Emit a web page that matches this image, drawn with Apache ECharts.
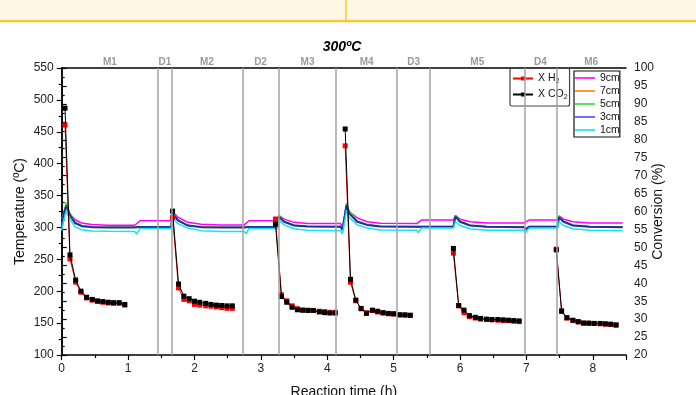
<!DOCTYPE html>
<html><head><meta charset="utf-8">
<script src="https://cdn.jsdelivr.net/npm/echarts@6/dist/echarts.min.js"></script>
<style>html,body{margin:0;padding:0;background:#fff}#c{width:696px;height:395px}</style>
</head><body><div id="c"></div>
<script>
// ---- phases ----
const phaseBounds = [0, 1.45, 1.656, 2.72, 3.27, 4.135, 5.05, 5.55, 6.97, 7.45, 8.5];
const phaseNames = ['M1','D1','M2','D2','M3','M4','D3','M5','D4','M6'];
const phaseLines = [1.45, 1.656, 2.72, 3.27, 4.135, 5.05, 5.55, 6.97, 7.45];

// ---- conversion data (%) ----
const timeM1 = [0.05,0.125,0.21,0.29,0.375,0.46,0.54,0.62,0.70,0.78,0.865,0.95];
const co2M1 = [88.8,47.9,40.9,37.8,36.1,35.5,35.1,34.9,34.7,34.6,34.6,34.1];
const h2M1  = [84.1,46.8,40.3,37.5,35.9,35.3,34.9,34.7,34.5,34.4,34.4,33.9];
const timeM2 = [1.67,1.76,1.84,1.92,2.0,2.08,2.17,2.25,2.33,2.41,2.49,2.57];
const co2M2 = [60.1,39.8,36.4,35.7,35.0,34.7,34.4,34.1,33.9,33.8,33.7,33.7];
const h2M2  = [58.3,38.7,35.5,35.1,34.1,33.9,33.7,33.6,33.4,33.2,33.0,33.0];
const timeM3 = [3.22,3.31,3.39,3.47,3.55,3.63,3.71,3.79,3.88,3.96,4.04,4.12];
const co2M3 = [56.5,36.3,34.7,33.3,32.6,32.5,32.4,32.4,32.0,31.8,31.7,31.7];
const h2M3  = [57.9,36.8,35.1,33.7,32.9,32.5,32.5,32.4,32.2,32.1,31.9,31.9];
const timeM4 = [4.27,4.35,4.43,4.51,4.59,4.68,4.76,4.84,4.92,5.0,5.09,5.17,5.25];
const co2M4 = [83.0,41.1,35.3,32.9,31.6,32.5,32.2,31.8,31.6,31.5,31.2,31.2,31.1];
const h2M4  = [78.3,40.3,35.1,33.0,31.8,32.4,32.0,31.7,31.5,31.4,31.2,31.1,31.0];
const timeM5 = [5.90,5.98,6.06,6.14,6.23,6.31,6.40,6.48,6.57,6.65,6.73,6.81,6.89];
const co2M5 = [49.7,33.8,32.5,31.0,30.5,30.2,30.0,29.9,29.9,29.8,29.7,29.6,29.5];
const h2M5  = [48.4,33.7,31.8,30.7,30.3,30.0,29.9,29.8,29.7,29.6,29.6,29.4,29.3];
const timeM6 = [7.45,7.53,7.61,7.70,7.78,7.86,7.94,8.02,8.11,8.19,8.27,8.35];
const co2M6 = [49.3,32.3,30.4,29.7,29.3,28.9,28.9,28.8,28.8,28.7,28.6,28.4];
const h2M6  = [49.5,32.1,30.3,29.6,29.2,28.9,28.8,28.8,28.7,28.6,28.5,28.3];

// ---- temperature profiles (ºC) ----
const tempTime = [0.00,0.03,0.07,0.12,0.20,0.30,0.45,0.70,1.10,1.13,1.18,1.65,1.67,1.75,1.90,2.10,2.40,2.75,2.78,2.82,3.25,3.27,3.35,3.50,3.70,4.20,4.23,4.29,4.33,4.45,4.60,4.80,5.35,5.37,5.42,5.90,5.93,6.00,6.15,6.40,6.96,6.99,7.04,7.47,7.49,7.56,7.70,7.95,8.45];
const temp9 = [313,322,333,322,312,307,304.5,303.5,303.5,304,310.5,310.5,325,316,308,305,304,304,305,310.5,310.5,319,313,308,306,306,300,334,325,315,309,306.5,306,306,311.5,311.5,319,313,309,307,307,307,311.5,311.5,318,313,309,307,307];
const temp7 = [300,320,335,322,308,303,301,300.4,300.4,297.5,301,301,322.5,311.5,303.5,300.9,300.4,300.4,297.5,301,301,317.5,309.5,303.5,301.9,301.4,296.5,335.5,324,310,304.5,301.9,301.4,298.5,301.4,301.4,317.5,309.5,303.5,301.4,300.9,297.5,301.4,301.4,316.5,309.5,303.5,301.4,300.9];
const temp5 = [299,324,339,323,308,303,300.7,300.2,300.2,297.3,300.8,300.8,324,311.5,303.3,300.7,300.2,300.2,297.3,300.8,300.8,318.5,309.5,303.3,301.7,301.2,296.3,338,326,310,304.3,301.7,301.2,298.3,301.2,301.2,318.5,309.5,303.3,301.2,300.7,297.3,301.2,301.2,317.5,309.5,303.3,301.2,300.7];
const temp3 = [298,321,334,320,307,302,300.5,300,300,297,300.6,300.6,322.5,311,303,300.5,300,300,297,300.6,300.6,317,309,303,301.5,301,296,335,322,309,304,301.5,301,298,301,301,317,309,303,301,300.5,297,301,301,316,309,303,301,300.5];
const temp1 = [295,311,326,314,301,296.5,294.5,294,293.7,289.5,298.5,298.5,314.5,306,299,295,293.7,293.7,290,298.5,298.5,312,304,298,295.5,295,290,327,316,304,299,296,295.5,292,299,299,309,303,298,295.5,295.5,292,299,299,309,303,298,295.5,295];

// ---- build series data ----
function joinSegments(times, vals) {
  const out = [];
  times.forEach((ts, i) => {
    if (i > 0) out.push([ts[0] - 0.01, '-']);
    ts.forEach((t, j) => out.push([t, vals[i][j]]));
  });
  return out;
}
const segTimes = [timeM1, timeM2, timeM3, timeM4, timeM5, timeM6];
const co2Data = joinSegments(segTimes, [co2M1, co2M2, co2M3, co2M4, co2M5, co2M6]);
const h2Data = joinSegments(segTimes, [h2M1, h2M2, h2M3, h2M4, h2M5, h2M6]);
const pair = arr => tempTime.map((t, i) => [t, arr[i]]);

const FONT = 'Liberation Sans, Arial, sans-serif';
const chart = echarts.init(document.getElementById('c'));

function tempSeries(name, arr, color, width, extra) {
  return Object.assign({
    name, type: 'line', data: pair(arr), yAxisIndex: 0, symbol: 'none',
    lineStyle: { color, width }, itemStyle: { color }, z: 2
  }, extra || {});
}

const markArea = {
  silent: true,
  itemStyle: { color: 'rgba(0,0,0,0)' },
  label: { show: true, position: 'top', distance: 1, color: '#9a9a9a', fontWeight: 'bold', fontSize: 10, fontFamily: FONT },
  data: phaseNames.map((n, i) => [{ xAxis: phaseBounds[i], name: n }, { xAxis: phaseBounds[i + 1] }])
};
const markLine = {
  silent: true, symbol: ['none', 'none'], label: { show: false },
  lineStyle: { color: '#a3a3a3', width: 1.5, type: 'solid' },
  data: phaseLines.map(x => ({ xAxis: x }))
};

const option = {
  animation: false,
  textStyle: { fontFamily: FONT },
  graphic: [
    { type: 'rect', shape: { x: 0, y: 0, width: 696, height: 20.5 }, style: { fill: '#FFF7E3' }, silent: true },
    { type: 'rect', shape: { x: 0, y: 20, width: 696, height: 2.2 }, style: { fill: '#FFC629' }, silent: true },
    { type: 'rect', shape: { x: 345.2, y: 0, width: 1.5, height: 21 }, style: { fill: '#FFC629' }, silent: true },
    { type: 'text', x: 342, y: 47, style: { text: '300ºC', font: 'italic bold 14px ' + FONT, fill: '#000', textAlign: 'center', textVerticalAlign: 'middle' } }
  ],
  grid: { left: 61.7, right: 70, top: 68, bottom: 40, outerBoundsMode: 'none', containLabel: false },
  xAxis: [{
    type: 'value', min: 0, max: 8.5, interval: 1,
    name: 'Reaction time (h)', nameLocation: 'middle', nameGap: 30, nameMoveOverlap: false,
    nameTextStyle: { fontSize: 14, color: '#111' },
    axisLine: { lineStyle: { color: '#000', width: 1.5 } },
    axisTick: { length: 5, lineStyle: { color: '#000', width: 1.2 } },
    minorTick: { show: true, splitNumber: 2, length: 3, lineStyle: { color: '#000', width: 1.2 } },
    axisLabel: { fontSize: 12, color: '#222', margin: 8, showMaxLabel: false },
    splitLine: { show: false }
  }, {
    type: 'value', min: 0, max: 8.5, position: 'top',
    axisLine: { show: true, onZero: false, lineStyle: { color: '#000', width: 1.5 } },
    axisTick: { show: false }, axisLabel: { show: false }, splitLine: { show: false }
  }],
  yAxis: [{
    type: 'value', min: 100, max: 550, interval: 50,
    name: 'Temperature (ºC)', nameLocation: 'middle', nameGap: 35, nameMoveOverlap: false,
    nameTextStyle: { fontSize: 14, color: '#111' },
    axisLine: { show: true, lineStyle: { color: '#000', width: 1.5 } },
    axisTick: { show: true, length: 5, lineStyle: { color: '#000', width: 1.2 } },
    minorTick: { show: true, splitNumber: 2, length: 3, lineStyle: { color: '#000', width: 1.2 } },
    axisLabel: { fontSize: 12, color: '#222', margin: 8 },
    splitLine: { show: false }
  }, {
    type: 'value', min: 20, max: 100, interval: 5, position: 'right',
    name: 'Conversion (%)', nameLocation: 'middle', nameGap: 25, nameRotate: 90, nameMoveOverlap: false,
    nameTextStyle: { fontSize: 14, color: '#111' },
    axisLine: { show: true, lineStyle: { color: '#000', width: 1.5 } },
    axisTick: { show: true, length: 5, lineStyle: { color: '#000', width: 1.2 } },
    minorTick: { show: true, splitNumber: 2, length: 3, lineStyle: { color: '#000', width: 1.2 } },
    axisLabel: { fontSize: 12, color: '#222', margin: 8 },
    splitLine: { show: false }
  }],
  legend: [{
    orient: 'vertical', left: 510, top: 68,
    data: ['X H2', 'X CO2'],
    itemWidth: 20, itemHeight: 5, itemGap: 4,
    padding: [5, 2, 5, 2],
    borderColor: '#444', borderWidth: 1.2, borderRadius: 2,
    textStyle: { fontSize: 10.5, color: '#111', rich: { s: { fontSize: 7, padding: [6, 0, 0, 0], color: '#111' } } },
    formatter: n => n === 'X H2' ? 'X H{s|2}' : 'X CO{s|2}'
  }, {
    orient: 'vertical', left: 574, top: 71,
    data: [
      { name: '9cm', icon: 'rect' }, { name: '7cm', icon: 'rect' }, { name: '5cm', icon: 'rect' },
      { name: '3cm', icon: 'rect', itemStyle: { color: '#4a4aff' } },
      { name: '1cm', icon: 'rect' }
    ],
    itemWidth: 20, itemHeight: 1.6, itemGap: 2,
    padding: [1.5, 0, 1.5, 1],
    borderColor: '#111', borderWidth: 1.2, borderRadius: 0,
    textStyle: { fontSize: 10.5, color: '#111' }
  }],
  series: [
    tempSeries('9cm', temp9, '#ff00ff', 1.5, { markArea, markLine }),
    tempSeries('7cm', temp7, '#ff8000', 1.5),
    tempSeries('5cm', temp5, '#33dd33', 1.5),
    tempSeries('3cm', temp3, '#1f2f9f', 2),
    tempSeries('1cm', temp1, '#11e3f0', 1.5),
    {
      name: 'X H2', type: 'line', yAxisIndex: 1, data: h2Data, connectNulls: false,
      symbol: 'rect', symbolSize: 5, showAllSymbol: true,
      lineStyle: { color: '#ff0000', width: 1 }, itemStyle: { color: '#ff0000' }, z: 3
    },
    {
      name: 'X CO2', type: 'line', yAxisIndex: 1, data: co2Data, connectNulls: false,
      symbol: 'rect', symbolSize: 5, showAllSymbol: true,
      lineStyle: { color: '#000', width: 1 }, itemStyle: { color: '#000' }, z: 4
    }
  ]
};
chart.setOption(option);
</script>
</body></html>
